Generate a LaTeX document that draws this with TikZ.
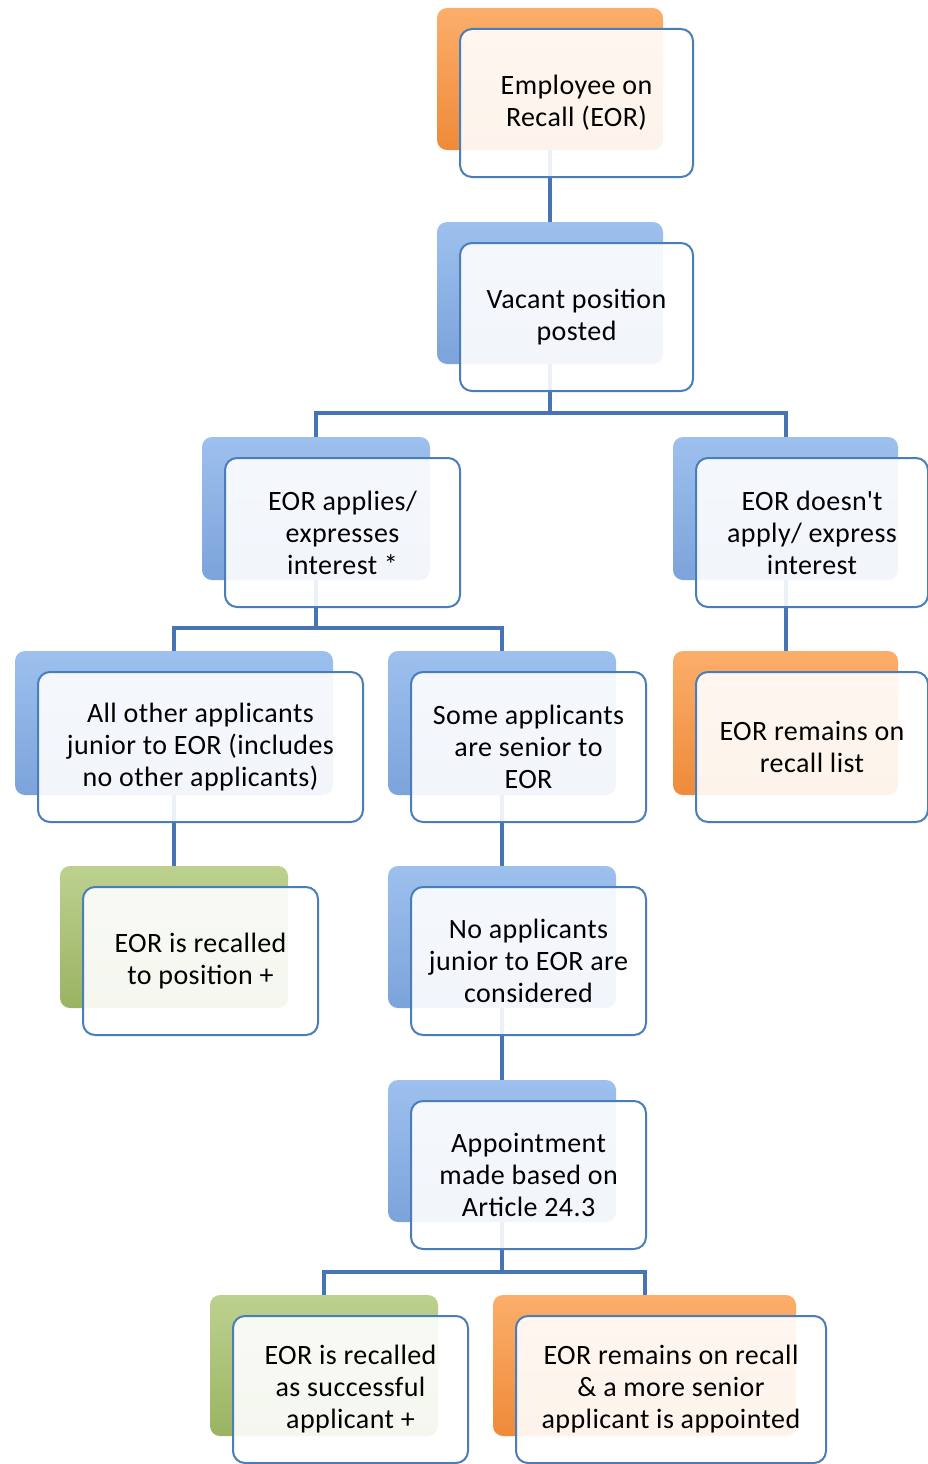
\documentclass[tikz,border=0pt]{standalone}
\usepackage{fontspec}
\setmainfont[LetterSpace=1.5]{Carlito}
\pgfdeclarelayer{background}
\pgfsetlayers{background,main}
\definecolor{bluetop}{HTML}{9DC0EE}
\definecolor{bluebot}{HTML}{7CA3DA}
\definecolor{orgtop}{HTML}{FBAE6A}
\definecolor{orgbot}{HTML}{EF8A3A}
\definecolor{grntop}{HTML}{BDD18F}
\definecolor{grnbot}{HTML}{9AB362}
\definecolor{frameblue}{HTML}{4A7EBB}
\definecolor{connblue}{HTML}{4674B4}
\newcommand\straightapos{{\XeTeXglyph\XeTeXcharglyph"27\relax}}
\tikzset{
  backbox/.style={rectangle, rounded corners=10pt, draw=none, inner sep=0pt},
  blueback/.style={top color=bluetop, bottom color=bluebot},
  orangeback/.style={top color=orgtop, bottom color=orgbot},
  greenback/.style={top color=grntop, bottom color=grnbot},
  frontbox/.style={rectangle, rounded corners=12pt, draw=frameblue, line width=2pt,
    fill=white, fill opacity=0.9, text opacity=1, align=center, inner sep=0pt,
    font=\fontsize{28}{32}\selectfont, text=black},
  conn/.style={draw=connblue, line width=4pt}
}
\newcommand\orgbox[7]{%
  \node[backbox, #6, minimum width=#4-#2, minimum height=#5-#3] (#1b) at ({(#2+#4)/2},{(#3+#5)/2}) {};
  \node[frontbox, minimum width=#4-#2+7, minimum height=#5-#3+6] (#1) at ({(#2+#4)/2+26.5},{(#3+#5)/2+24}) {#7};
}
\begin{document}
\begin{tikzpicture}[x=1pt,y=-1pt]
\useasboundingbox (0,0) rectangle (928,1464);
\orgbox{n1}{437}{8}{663}{150}{orangeback}{Employee on\\Recall (EOR)}
\orgbox{n2}{437}{222}{663}{364}{blueback}{Vacant position\\posted}
\orgbox{n3}{202}{437}{430}{580}{blueback}{EOR applies/\\expresses\\interest *}
\orgbox{n4}{673}{437}{898}{580}{blueback}{EOR doesn\straightapos t\\apply/ express\\interest}
\orgbox{n5}{15}{651}{333}{795}{blueback}{All other applicants\\junior to EOR (includes\\no other applicants)}
\orgbox{n6}{388}{651}{616}{795}{blueback}{Some applicants\\are senior to\\EOR}
\orgbox{n7}{673}{651}{898}{795}{orangeback}{EOR remains on\\recall list}
\orgbox{n8}{60}{866}{288}{1008}{greenback}{EOR is recalled\\to position +}
\orgbox{n9}{388}{866}{616}{1008}{blueback}{No applicants\\junior to EOR are\\considered}
\orgbox{n10}{388}{1080}{616}{1222}{blueback}{Appointment\\made based on\\Article 24.3}
\orgbox{n11}{210}{1295}{438}{1436}{greenback}{EOR is recalled\\as successful\\applicant +}
\orgbox{n12}{493}{1295}{796}{1436}{orangeback}{EOR remains on recall\\\& a more senior\\applicant is appointed}
\begin{pgfonlayer}{background}
\draw[conn] (n1b.south) -- (n2b.north);
\draw[conn] (n2b.south) -- ++(0,49) -| (n3b.north);
\draw[conn] (n2b.south) -- ++(0,49) -| (n4b.north);
\draw[conn] (n3b.south) -- ++(0,48) -| (n5b.north);
\draw[conn] (n3b.south) -- ++(0,48) -| (n6b.north);
\draw[conn] (n4b.south) -- (n7b.north);
\draw[conn] (n5b.south) -- (n8b.north);
\draw[conn] (n6b.south) -- (n9b.north);
\draw[conn] (n9b.south) -- (n10b.north);
\draw[conn] (n10b.south) -- ++(0,50) -| (n11b.north);
\draw[conn] (n10b.south) -- ++(0,50) -| (n12b.north);
\end{pgfonlayer}
\end{tikzpicture}
\end{document}
